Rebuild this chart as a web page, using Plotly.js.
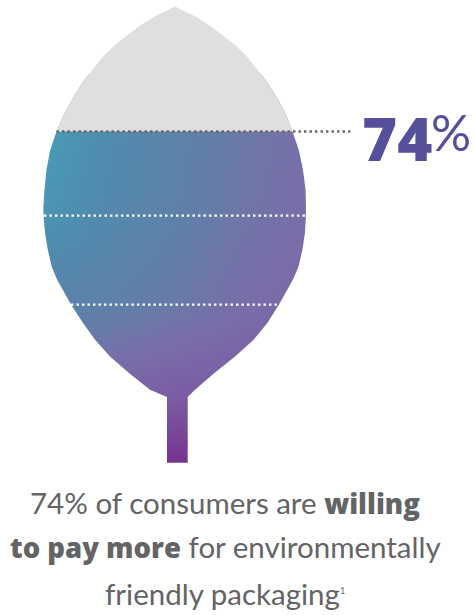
<!DOCTYPE html>
<html>
<head>
<meta charset="utf-8">
<script src="https://cdn.plot.ly/plotly-3.0.1.min.js"></script>
<style>html,body{margin:0;padding:0;background:#fff}#chart{width:474px;height:615px}</style>
</head>
<body>
<div id="chart"></div>
<script>
// Share of consumers, shown as the fill level of a leaf
const sharePercent = 74;
const bandLevels = [56.5, 38];

// Leaf outline: height on the percent scale, with the left and right edges around the midrib
const outlineLevels = [100, 98, 96, 94, 92, 90, 87, 84, 81, 78, 74, 70, 66, 62, 58, 55.7, 53, 49.5, 45.9, 43.2, 41.1, 38, 34.3, 30.7, 27.2, 23.9, 20.3, 18.8];
const outlineLeft = [0, -20, -35, -48, -60, -70, -82, -93, -102, -110, -118.5, -125, -128.5, -130.5, -131.7, -131.2, -130, -127.3, -123.3, -118, -112.3, -104, -92.3, -80, -65, -46.7, -25, -8];
const outlineRight = [0, 20, 35, 48, 60, 70, 82, 93, 102, 110, 117.5, 124, 128, 130.5, 131, 130.7, 130, 127.5, 123.5, 118, 112.3, 104, 92.7, 78.7, 60, 40, 20, 12.7];
const stemBase = 5.1;

// Colour field for the filled part of the leaf
const fieldX = [-140, -70, 0, 70, 140];
const fieldLevels = [76, 56, 38, 20, 4];
const fieldRows = [
  [0.00, 0.20, 0.35, 0.48, 0.60],
  [0.10, 0.25, 0.38, 0.52, 0.62],
  [0.32, 0.38, 0.47, 0.60, 0.68],
  [0.60, 0.68, 0.78, 0.80, 0.82],
  [0.90, 0.95, 1.00, 1.00, 1.00]
];
const fieldColours = [
  [0, '#46a0b8'], [0.2, '#4f8cae'], [0.4, '#6080a8'],
  [0.6, '#7a6ea8'], [0.8, '#7a5ca5'], [1, '#77308e']
];

const xRange = [-175, 299];
const yRange = [-26.56, 101.36];

const leafX = [...outlineRight, outlineRight[outlineRight.length - 1], outlineLeft[outlineLeft.length - 1], ...outlineLeft.slice().reverse()];
const leafY = [...outlineLevels, stemBase, stemBase, ...outlineLevels.slice().reverse()];

// Page-coloured sheet with a leaf-shaped hole, trimming the colour field to the outline
const sheetX = [xRange[0], xRange[0], xRange[1], xRange[1], xRange[0], null, ...leafX];
const sheetY = [yRange[1], yRange[0], yRange[0], yRange[1], yRange[1], null, ...leafY];

// Empty upper part of the leaf, above the fill level
const emptyLevels = outlineLevels.filter(v => v >= sharePercent);
const emptyRight = outlineRight.slice(0, emptyLevels.length);
const emptyLeft = outlineLeft.slice(0, emptyLevels.length);
const emptyX = [...emptyRight, ...emptyLeft.slice().reverse()];
const emptyY = [...emptyLevels, ...emptyLevels.slice().reverse()];

const edgeAt = (edge, level) => edge[outlineLevels.indexOf(level)];
const dotted = (colour, x0, x1, level) => ({
  type: 'scatter', mode: 'lines', x: [x0, x1], y: [level, level],
  line: {color: colour, width: 2.4, dash: '2.4px,3.1px'}, hoverinfo: 'skip'
});

const traces = [
  {type: 'heatmap', x: fieldX, y: fieldLevels, z: fieldRows, zmin: 0, zmax: 1,
   colorscale: fieldColours, zsmooth: 'best', showscale: false, hoverinfo: 'skip'},
  {type: 'scatter', mode: 'lines', x: sheetX, y: sheetY, fill: 'toself', fillcolor: '#ffffff',
   line: {width: 0, simplify: false}, hoverinfo: 'skip'},
  {type: 'scatter', mode: 'lines', x: emptyX, y: emptyY, fill: 'toself', fillcolor: '#e0dfdd',
   line: {width: 0, simplify: false}, hoverinfo: 'skip'},
  dotted('#666666', edgeAt(outlineLeft, sharePercent), 178, sharePercent),
  dotted('#ffffff', -131, 131, bandLevels[0]),
  dotted('#ffffff', -104, 104, bandLevels[1])
];

const textFont = {family: 'Lato, sans-serif', size: 29.5, color: '#636466', weight: 400};
const bigFont = {family: 'Lato, sans-serif', color: '#56509a'};
const heavy = t => '<span style="font-family:\'Open Sans\';font-weight:800;font-size:27.5px">' + t + '</span>';

const note = (text, xPx, yPx, font, xanchor) => ({
  text, xref: 'paper', yref: 'paper', x: xPx / 474, y: 1 - yPx / 615,
  xanchor: xanchor || 'center', yanchor: 'middle', showarrow: false, font
});

const layout = {
  width: 474, height: 615,
  margin: {l: 0, r: 0, t: 0, b: 0},
  paper_bgcolor: '#ffffff', plot_bgcolor: '#ffffff',
  showlegend: false,
  xaxis: {range: xRange, visible: false, fixedrange: true},
  yaxis: {range: yRange, visible: false, fixedrange: true},
  annotations: [
    note(String(sharePercent), 396.5, 138, {family: "'Open Sans', sans-serif", color: '#56509a', size: 60, weight: 800}),
    note('%', 450.5, 132, {...bigFont, size: 50, weight: 400}),
    note(sharePercent + '% of consumers are ' + heavy('willing'), 225, 503.5, textFont),
    note(heavy('to pay more') + ' for environmentally', 225.5, 547.5, textFont),
    note('friendly packaging', 222.5, 593.5, textFont),
    note('1', 342, 590, {...textFont, size: 9})
  ]
};

Plotly.newPlot('chart', traces, layout, {displayModeBar: false, staticPlot: true});
</script>
</body>
</html>
